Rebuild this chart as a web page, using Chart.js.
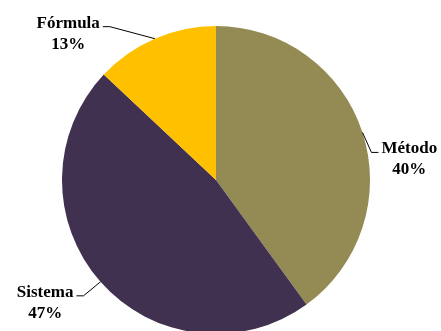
<!DOCTYPE html>
<html>
<head>
    <meta charset="utf-8">
    <title>Método / Sistema / Fórmula</title>
    <script src="https://cdn.jsdelivr.net/npm/chart.js"></script>
    <style>
        html, body {
            margin: 0;
            padding: 0;
            background: #ffffff;
            overflow: hidden;
        }
        .wrap {
            width: 441px;
            height: 340px;
        }
    </style>
</head>
<body>
    <div class="wrap">
        <canvas id="pieChart" width="441" height="340"></canvas>
    </div>
    <script>
        // Data
        const categories = ['Método', 'Sistema', 'Fórmula'];
        const shares = [40, 47, 13];
        const sliceColors = ['#948A54', '#403151', '#FFC000'];

        // Leader line elbows, relative to the point where the line leaves the slice
        const elbowOffsets = [
            { dx: 9, dy: 20, side: 1 },
            { dx: -17, dy: 14, side: -1 },
            { dx: -45, dy: -12, side: -1 }
        ];

        const leaderLabels = {
            id: 'leaderLabels',
            afterDatasetsDraw(chart) {
                const ctx = chart.ctx;
                const meta = chart.getDatasetMeta(0);
                const values = chart.data.datasets[0].data;
                const total = values.reduce((a, b) => a + b, 0);

                ctx.save();
                ctx.font = 'bold 17px "Liberation Serif", "Times New Roman", serif';
                ctx.fillStyle = '#000000';
                ctx.strokeStyle = '#000000';
                ctx.lineWidth = 1;
                ctx.textBaseline = 'alphabetic';
                ctx.textAlign = 'center';

                meta.data.forEach((arc, i) => {
                    const mid = (arc.startAngle + arc.endAngle) / 2;
                    const px = arc.x + Math.cos(mid) * arc.outerRadius;
                    const py = arc.y + Math.sin(mid) * arc.outerRadius;
                    const off = elbowOffsets[i];
                    const ex = px + off.dx;
                    const ey = py + off.dy;
                    const hx = ex + off.side * 7;

                    ctx.beginPath();
                    ctx.moveTo(px, py);
                    ctx.lineTo(ex, ey);
                    ctx.lineTo(hx, ey);
                    ctx.stroke();

                    const name = chart.data.labels[i];
                    const pct = Math.round(values[i] / total * 100) + '%';
                    const w = ctx.measureText(name).width;
                    const cx = hx + off.side * (3 + w / 2);
                    ctx.fillText(name, cx, ey + 1);
                    ctx.fillText(pct, cx, ey + 22);
                });
                ctx.restore();
            }
        };

        new Chart(document.getElementById('pieChart'), {
            type: 'pie',
            data: {
                labels: categories,
                datasets: [{
                    data: shares,
                    backgroundColor: sliceColors,
                    borderWidth: 0
                }]
            },
            options: {
                responsive: false,
                animation: false,
                layout: {
                    padding: { top: 26, bottom: 6, left: 62, right: 71 }
                },
                plugins: {
                    legend: { display: false },
                    tooltip: { enabled: false }
                }
            },
            plugins: [leaderLabels]
        });
    </script>
</body>
</html>
